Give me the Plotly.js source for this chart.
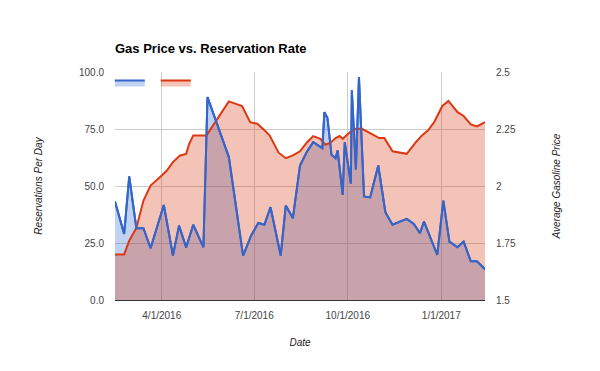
<!DOCTYPE html>
<html>
<head>
<meta charset="utf-8">
<script src="https://cdn.plot.ly/plotly-3.0.1.min.js"></script>
<style>html,body{margin:0;padding:0;background:#fff}#chart{width:600px;height:371px}</style>
</head>
<body>
<div id="chart"></div>
<script>
// Reservations per day (left axis)
var reservationDates = ['2016-02-15','2016-02-24','2016-02-29','2016-03-07','2016-03-14','2016-03-21','2016-04-03','2016-04-12','2016-04-18','2016-04-25','2016-05-02','2016-05-12','2016-05-16','2016-06-06','2016-06-20','2016-06-28','2016-07-05','2016-07-11','2016-07-17','2016-07-27','2016-08-01','2016-08-08','2016-08-15','2016-08-22','2016-08-28','2016-09-06','2016-09-08','2016-09-11','2016-09-15','2016-09-19','2016-09-21','2016-09-26','2016-09-28','2016-10-04','2016-10-05','2016-10-09','2016-10-12','2016-10-17','2016-10-23','2016-10-31','2016-11-07','2016-11-14','2016-11-28','2016-12-05','2016-12-11','2016-12-15','2016-12-28','2017-01-03','2017-01-09','2017-01-17','2017-01-23','2017-01-30','2017-02-05','2017-02-13'];
var reservationsPerDay = [43.2,29,54.2,31.5,31.5,22.7,41.7,19.5,32.6,23.1,33,23.1,89,62.7,19.5,28.3,33.8,33,40.7,19.5,41.4,35.9,59,65.2,69.2,66.6,82.4,79.8,63.7,62.2,65.6,46.1,69.2,51,92,57.2,97.8,45.4,45,59,38.5,33,35.6,33.4,29.3,34.4,19.8,43.6,25.6,23.1,25.6,17,17,13.5];

// Average gasoline price (right axis)
var gasDates = ['2016-02-15','2016-02-24','2016-02-29','2016-03-07','2016-03-14','2016-03-21','2016-04-01','2016-04-06','2016-04-12','2016-04-19','2016-04-25','2016-04-28','2016-05-02','2016-05-15','2016-06-06','2016-06-19','2016-06-27','2016-07-04','2016-07-11','2016-07-16','2016-07-25','2016-08-01','2016-08-08','2016-08-15','2016-08-22','2016-08-28','2016-09-04','2016-09-09','2016-09-14','2016-09-19','2016-09-23','2016-09-26','2016-10-03','2016-10-09','2016-10-15','2016-10-24','2016-11-01','2016-11-06','2016-11-14','2016-11-28','2016-12-03','2016-12-07','2016-12-13','2016-12-19','2016-12-25','2017-01-02','2017-01-08','2017-01-17','2017-01-23','2017-01-30','2017-02-05','2017-02-13'];
var gasPrice = [1.70,1.70,1.76,1.816,1.936,2.002,2.046,2.068,2.105,2.134,2.141,2.185,2.222,2.222,2.371,2.351,2.28,2.273,2.245,2.222,2.146,2.122,2.134,2.152,2.192,2.219,2.207,2.181,2.19,2.21,2.219,2.207,2.236,2.251,2.251,2.229,2.21,2.21,2.152,2.141,2.17,2.192,2.222,2.244,2.28,2.351,2.373,2.324,2.307,2.27,2.261,2.28];

// Axis ticks
var xTickDates = ['2016-04-01','2016-07-01','2016-10-01','2017-01-01'];
var xTickLabels = ['4/1/2016','7/1/2016','10/1/2016','1/1/2017'];
var leftTicks = [0,25,50,75,100];
var rightTicks = [1.5,1.75,2,2.25,2.5];
var rightTickLabels = ['1.5','1.75','2','2.25','2.5'];

var BLUE = '#3366cc', RED = '#dc3912';
var FONT = 'Liberation Sans, Arial, sans-serif';

var traces = [
  {x: reservationDates, y: reservationsPerDay, type: 'scatter', mode: 'lines', name: '',
   yaxis: 'y', fill: 'tozeroy', fillcolor: 'rgba(51,102,204,0.3)',
   line: {color: BLUE, width: 2}, showlegend: true},
  {x: gasDates, y: gasPrice, type: 'scatter', mode: 'lines', name: '',
   yaxis: 'y2', fill: 'tozeroy', fillcolor: 'rgba(220,57,18,0.3)',
   line: {color: RED, width: 2}, showlegend: true},
  {x: reservationDates, y: reservationsPerDay, type: 'scatter', mode: 'lines',
   yaxis: 'y3', line: {color: BLUE, width: 2}, showlegend: false, hoverinfo: 'skip'}
];

var layout = {
  width: 600, height: 371,
  margin: {l: 115, r: 115, t: 72, b: 71, pad: 0},
  paper_bgcolor: '#fff', plot_bgcolor: '#fff',
  font: {family: FONT, size: 10, color: '#444'},
  title: {text: 'Gas Price vs. Reservation Rate', font: {family: FONT, size: 13, color: '#000', weight: 'bold'},
          xref: 'container', yref: 'container', x: 115/600, xanchor: 'left', y: 1 - 48/371, yanchor: 'middle'},
  showlegend: true,
  legend: {orientation: 'h', x: -0.014, y: 1.018, xanchor: 'left', yanchor: 'top', bgcolor: 'rgba(0,0,0,0)',
           font: {size: 10}, itemwidth: 30, entrywidth: 1, entrywidthmode: 'pixels'},
  xaxis: {type: 'date', range: ['2016-02-15', '2017-02-13'], tickmode: 'array', tickvals: xTickDates, ticktext: xTickLabels,
          showgrid: true, gridcolor: '#ccc', gridwidth: 1, zeroline: false, showline: true, linecolor: '#333', linewidth: 1,
          ticks: '', ticklabelstandoff: 6, tickfont: {size: 10, color: '#444'},
          title: {text: 'Date', font: {size: 10, color: '#222', style: 'italic'}, standoff: 18}, automargin: false},
  yaxis: {range: [0, 100], tickmode: 'array', tickvals: leftTicks, tickformat: '.1f', showgrid: true, gridcolor: '#ccc',
          zeroline: false, showline: false, ticks: '', ticklabelstandoff: 10, tickfont: {size: 10, color: '#444'},
          title: {text: 'Reservations Per Day', font: {size: 10, color: '#222', style: 'italic'}, standoff: 34}, automargin: false},
  yaxis2: {range: [1.5, 2.5], overlaying: 'y', side: 'right', tickmode: 'array', tickvals: rightTicks, ticktext: rightTickLabels,
           showgrid: false, zeroline: false, showline: false, ticks: '', ticklabelstandoff: 10, tickfont: {size: 10, color: '#444'},
           title: {text: 'Average Gasoline Price', font: {size: 10, color: '#222', style: 'italic'}, standoff: 38}, automargin: false},
  yaxis3: {range: [0, 100], overlaying: 'y', visible: false}
};

Plotly.newPlot('chart', traces, layout, {displayModeBar: false, staticPlot: true});
</script>
</body>
</html>
